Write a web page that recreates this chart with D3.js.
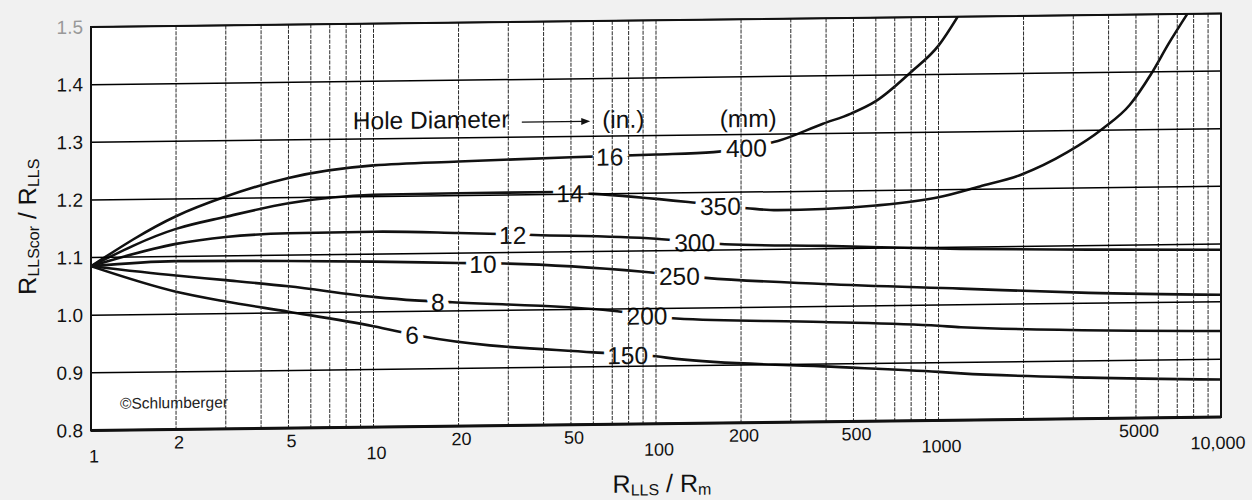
<!DOCTYPE html>
<html>
<head>
<meta charset="utf-8">
<script src="https://cdn.jsdelivr.net/npm/d3@7"></script>
<style>
  body { margin: 0; background: #f1f1f1; }
  svg { display: block; font-family: "Liberation Sans", Arial, sans-serif; }
</style>
</head>
<body>
<div id="chart"></div>
<script>
// 曲线数据: [R_LLS/R_m, R_LLScor/R_LLS]
const curve16 = [[1,1.085],[2,1.17],[3,1.203],[5,1.234],[10,1.254],[20,1.259],[50,1.264],[100,1.267],[160,1.27],[210,1.278],[270,1.288],[390,1.317],[490,1.334],[600,1.355],[800,1.405],[1000,1.45],[1170,1.5]];
const curve14 = [[1,1.085],[2,1.148],[3,1.168],[5,1.19],[10,1.203],[20,1.204],[45,1.204],[60,1.2],[130,1.184],[210,1.172],[270,1.168],[390,1.169],[600,1.174],[1000,1.187],[1400,1.205],[1950,1.224],[2850,1.262],[3800,1.302],[4750,1.343],[5650,1.396],[6550,1.45],[7600,1.5]];
const curve12 = [[1,1.085],[2,1.122],[3,1.133],[5,1.138],[10,1.139],[20,1.135],[37,1.13],[100,1.121],[175,1.11],[390,1.105],[1200,1.097],[3400,1.093],[10000,1.09]];
const curve10 = [[1,1.085],[2,1.092],[5,1.09],[10,1.087],[20,1.083],[29,1.081],[90,1.064],[150,1.052],[390,1.039],[1200,1.028],[3400,1.018],[10000,1.012]];
const curve8 = [[1,1.085],[2,1.067],[3,1.058],[5,1.046],[10,1.026],[14,1.019],[19,1.015],[70,0.997],[118,0.982],[390,0.973],[1000,0.964],[1200,0.961],[10000,0.949]];
const curve6 = [[1,1.085],[2,1.039],[3,1.021],[5,1.002],[10,0.975],[15,0.956],[60,0.925],[100,0.917],[118,0.912],[390,0.896],[1000,0.884],[1200,0.881],[3400,0.871],[10000,0.865]];

const curves = [curve16, curve14, curve12, curve10, curve8, curve6];
const diamIn = ['16', '14', '12', '10', '8', '6'];
const diamMm = ['400', '350', '300', '250', '200', '150'];
const inLabelX = [68.6, 49.6, 31.1, 24.4, 16.9, 13.7];
const mmLabelX = [209, 169, 137, 121, 92.9, 79.4];

const xTickVals = [1, 2, 5, 10, 20, 50, 100, 200, 500, 1000, 5000, 10000];
const xTickText = ['1', '2', '5', '10', '20', '50', '100', '200', '500', '1000', '5000', '10,000'];
const yTickVals = [0.8, 0.9, 1.0, 1.1, 1.2, 1.3, 1.4, 1.5];
const yTickText = ['0.8', '0.9', '1.0', '1.1', '1.2', '1.3', '1.4', '1.5'];

const chartW = 1252, chartH = 500;
const plotL = 91, plotR = 1221, plotT = 27, plotB = 430.5;

const svg = d3.select('#chart').append('svg')
    .attr('width', chartW)
    .attr('height', chartH);

// 扫描图轻微倾斜
const slope = 0.012;
const g = svg.append('g')
    .attr('transform', `translate(0,${slope * plotL}) skewY(${-Math.atan(slope) * 180 / Math.PI})`);

const x = d3.scaleLog().domain([1, 10000]).range([plotL, plotR]);
const y = d3.scaleLinear().domain([0.8, 1.5]).range([plotB, plotT]);

// 绘图区背景
g.append('rect')
    .attr('x', plotL).attr('y', plotT)
    .attr('width', plotR - plotL).attr('height', plotB - plotT)
    .attr('fill', '#ffffff');

g.append('clipPath').attr('id', 'plotClip')
    .append('rect')
    .attr('x', plotL).attr('y', plotT)
    .attr('width', plotR - plotL).attr('height', plotB - plotT);

// 曲线
const line = d3.line()
    .x(d => x(d[0]))
    .y(d => y(d[1]))
    .curve(d3.curveMonotoneX);

g.append('g').attr('clip-path', 'url(#plotClip)')
    .selectAll('path')
    .data(curves)
    .enter()
    .append('path')
    .attr('d', line)
    .attr('fill', 'none')
    .attr('stroke', '#111')
    .attr('stroke-width', 2.6);

// 沿曲线取标签位置
const valueAt = (curve, xv) => {
    for (let i = 1; i < curve.length; i++) {
        if (curve[i][0] >= xv) {
            const a = curve[i - 1], b = curve[i];
            const t = (Math.log(xv) - Math.log(a[0])) / (Math.log(b[0]) - Math.log(a[0]));
            return a[1] + t * (b[1] - a[1]);
        }
    }
    return curve[curve.length - 1][1];
};

const labelG = g.append('g')
    .attr('font-size', 24.5)
    .attr('text-anchor', 'middle')
    .attr('dominant-baseline', 'central');

curves.forEach((c, i) => {
    [[inLabelX[i], diamIn[i]], [mmLabelX[i], diamMm[i]]].forEach(([xv, txt]) => {
        labelG.append('text')
            .attr('x', x(xv))
            .attr('y', y(valueAt(c, xv)) + 1)
            .attr('fill', '#111')
            .attr('stroke', '#ffffff')
            .attr('stroke-width', 11)
            .attr('paint-order', 'stroke')
            .text(txt);
    });
});

// 网格线
const gridG = g.append('g');
gridG.selectAll('line.v')
    .data(x.ticks())
    .enter()
    .append('line')
    .attr('class', 'v')
    .attr('x1', d => x(d)).attr('x2', d => x(d))
    .attr('y1', plotT).attr('y2', plotB)
    .attr('stroke', '#2b2b2b')
    .attr('stroke-width', 1)
    .attr('stroke-dasharray', '4,1.2');
gridG.selectAll('line.h')
    .data(yTickVals)
    .enter()
    .append('line')
    .attr('class', 'h')
    .attr('x1', plotL).attr('x2', plotR)
    .attr('y1', d => y(d)).attr('y2', d => y(d))
    .attr('stroke', '#000')
    .attr('stroke-width', 1.5);

// 边框
g.append('rect')
    .attr('x', plotL).attr('y', plotT)
    .attr('width', plotR - plotL).attr('height', plotB - plotT)
    .attr('fill', 'none')
    .attr('stroke', '#111')
    .attr('stroke-width', 2);
g.append('line')
    .attr('x1', plotL).attr('x2', plotR)
    .attr('y1', plotB).attr('y2', plotB)
    .attr('stroke', '#111')
    .attr('stroke-width', 3);

// Y 轴刻度
g.append('g')
    .selectAll('text')
    .data(yTickVals)
    .enter()
    .append('text')
    .attr('x', plotL - 8)
    .attr('y', d => y(d))
    .attr('text-anchor', 'end')
    .attr('dominant-baseline', 'central')
    .attr('font-size', 19)
    .attr('fill', (d, i) => i === yTickVals.length - 1 ? '#999' : '#111')
    .text((d, i) => yTickText[i]);

// X 轴刻度（十进位标签在下排）
g.append('g')
    .selectAll('text')
    .data(xTickVals)
    .enter()
    .append('text')
    .attr('x', (d, i) => x(d) + (i === xTickVals.length - 1 ? -3 : 3))
    .attr('y', d => plotB + (Number.isInteger(Math.log10(d)) ? 26 : 13))
    .attr('text-anchor', 'middle')
    .attr('dominant-baseline', 'central')
    .attr('font-size', 18)
    .attr('fill', '#111')
    .text((d, i) => xTickText[i]);

// 轴标题
const xTitle = g.append('text')
    .attr('x', 662)
    .attr('y', 499)
    .attr('text-anchor', 'middle')
    .attr('font-size', 25)
    .attr('fill', '#111');
xTitle.append('tspan').text('R');
xTitle.append('tspan').attr('font-size', 16).attr('dy', 3).text('LLS');
xTitle.append('tspan').attr('dy', -3).text(' / R');
xTitle.append('tspan').attr('font-size', 16).attr('dy', 3).text('m');

const yTitle = g.append('text')
    .attr('transform', 'translate(36,226) rotate(-90)')
    .attr('text-anchor', 'middle')
    .attr('font-size', 25)
    .attr('fill', '#111');
yTitle.append('tspan').text('R');
yTitle.append('tspan').attr('font-size', 16).attr('dy', 3).text('LLScor');
yTitle.append('tspan').attr('dy', -3).text(' / R');
yTitle.append('tspan').attr('font-size', 16).attr('dy', 3).text('LLS');

// 注释
const noteG = g.append('g').attr('font-size', 24.5).attr('fill', '#111');
noteG.append('text').attr('x', x(8.45)).attr('y', y(1.317)).text('Hole Diameter');
noteG.append('text').attr('x', x(64.5)).attr('y', y(1.314)).text('(in.)');
noteG.append('text').attr('x', x(168)).attr('y', y(1.313)).text('(mm)');

const arrowY = y(1.326);
noteG.append('line')
    .attr('x1', x(33.5)).attr('x2', x(56))
    .attr('y1', arrowY).attr('y2', arrowY)
    .attr('stroke', '#111').attr('stroke-width', 1.2);
noteG.append('path')
    .attr('d', `M${x(58.5)},${arrowY} l-9,-3.5 l0,7 z`)
    .attr('fill', '#111');

g.append('text')
    .attr('x', x(1.267))
    .attr('y', y(0.837))
    .attr('font-size', 15.5)
    .attr('fill', '#222')
    .text('©Schlumberger');
</script>
</body>
</html>
